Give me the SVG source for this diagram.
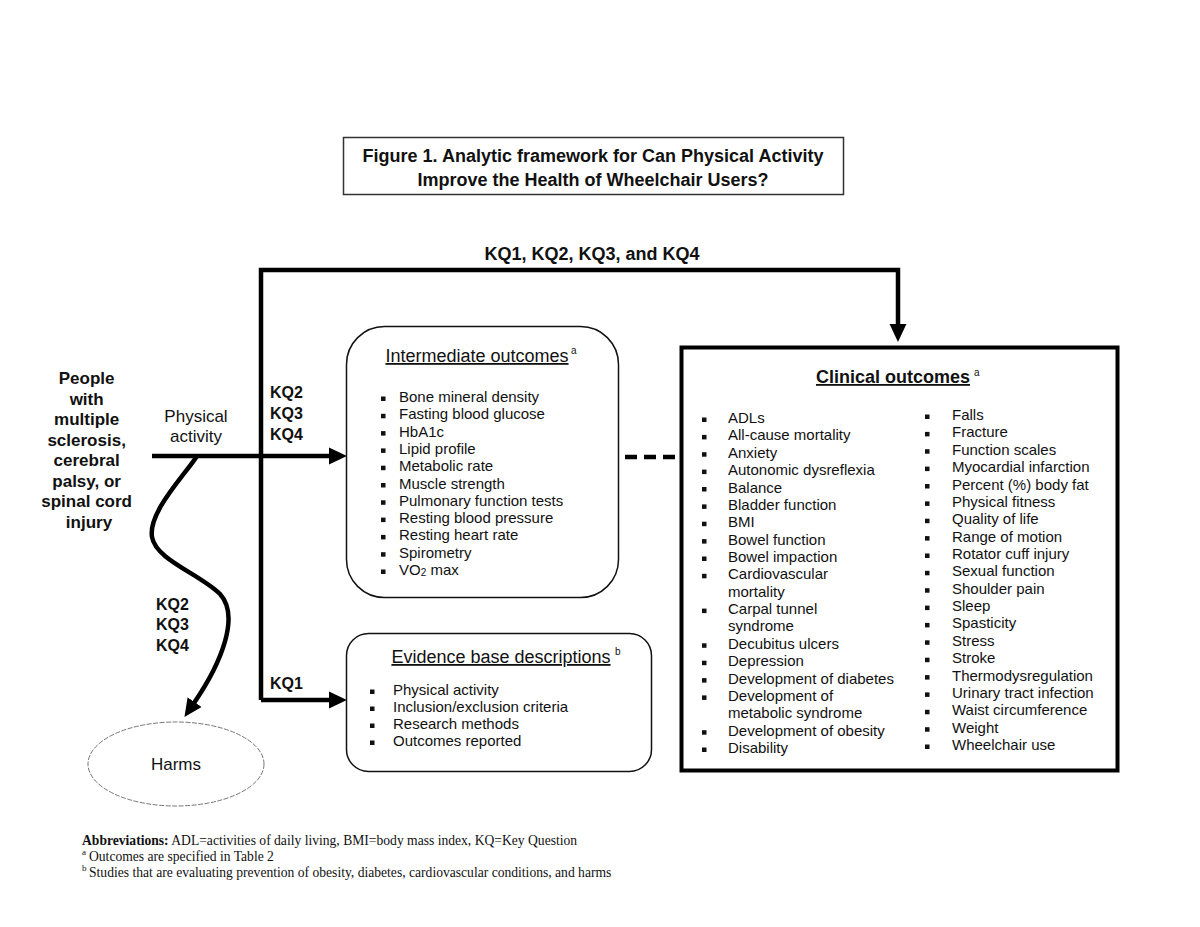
<svg xmlns="http://www.w3.org/2000/svg" width="1200" height="927" viewBox="0 0 1200 927">
<style>
text{font-family:"Liberation Sans",Arial,sans-serif;fill:#111}
.b{font-weight:bold}
.t17{font-size:17px}
.t18{font-size:18px}
.t16{font-size:16px}
.item{font-size:15px}
.sup{font-size:10px}
.ul{text-decoration:underline}
.fn{font-family:"Liberation Serif","Times New Roman",serif;font-size:13.6px}
.fns{font-family:"Liberation Serif","Times New Roman",serif;font-size:9px}
.conn{fill:none;stroke:#000;stroke-width:4.5}
.rbox{fill:#fff;stroke:#111;stroke-width:1.5}
.bul{fill:#111}
</style>
<defs>
<marker id="ah" markerUnits="userSpaceOnUse" markerWidth="18" markerHeight="18" refX="1" refY="8" orient="auto" viewBox="0 0 17 16">
<path d="M0,0 L17,8 L0,16 z" fill="#000"/>
</marker>
</defs>
<rect width="1200" height="927" fill="#fff"/>

<g id="title">
<rect x="343.5" y="137.5" width="500" height="57" fill="#fff" stroke="#333" stroke-width="1.5"/>
<text x="593" y="162" class="b t18" text-anchor="middle">Figure 1. Analytic framework for Can Physical Activity</text>
<text x="593" y="186" class="b t18" text-anchor="middle">Improve the Health of Wheelchair Users?</text>
</g>

<g id="connectors">
<path class="conn" d="M261,700 L261,270 L898,270 L898,325" marker-end="url(#ah)"/>
<path class="conn" d="M152,456 L330,456" marker-end="url(#ah)"/>
<path class="conn" d="M261,700 L330,700" marker-end="url(#ah)"/>
<path class="conn" d="M197,456 C185,475 148,512 152,537 C156,560 200,574 220,594 C240,616 222,662 194,703" marker-end="url(#ah)"/>
<line x1="625" y1="457" x2="675" y2="457" stroke="#000" stroke-width="4.5" stroke-dasharray="12,7"/>
<text x="592" y="260" class="b t18" text-anchor="middle">KQ1, KQ2, KQ3, and KQ4</text>
<text x="270" y="398" class="b t16">KQ2</text>
<text x="270" y="419" class="b t16">KQ3</text>
<text x="270" y="440" class="b t16">KQ4</text>
<text x="156" y="610" class="b t16">KQ2</text>
<text x="156" y="630" class="b t16">KQ3</text>
<text x="156" y="651" class="b t16">KQ4</text>
<text x="270" y="689" class="b t16">KQ1</text>
<text x="196" y="422" class="t17" text-anchor="middle">Physical</text>
<text x="196" y="442" class="t17" text-anchor="middle">activity</text>
</g>

<g id="population">
<text class="b t17" text-anchor="middle">
<tspan x="89" y="384">People</tspan>
<tspan x="89" y="404.5">with</tspan>
<tspan x="89" y="425">multiple</tspan>
<tspan x="89" y="445.5">sclerosis,</tspan>
<tspan x="89" y="466">cerebral</tspan>
<tspan x="89" y="486.5">palsy, or</tspan>
<tspan x="89" y="507">spinal cord</tspan>
<tspan x="89" y="527.5">injury</tspan>
</text>
</g>

<g id="harms">
<ellipse cx="176" cy="764" rx="88" ry="42" fill="#fff" stroke="#666" stroke-width="0.9" stroke-dasharray="5,1.5"/>
<text x="176" y="770" class="t17" text-anchor="middle">Harms</text>
</g>

<g id="intermediate">
<rect class="rbox" x="346.5" y="326.5" width="272" height="271" rx="38" ry="38"/>
<text x="477" y="362" class="t18 ul" text-anchor="middle">Intermediate outcomes</text>
<text x="571" y="354" class="sup">a</text>
<g class="bul">
<rect x="381" y="396.5" width="4.5" height="4.5"/><rect x="381" y="413.8" width="4.5" height="4.5"/><rect x="381" y="431.1" width="4.5" height="4.5"/><rect x="381" y="448.4" width="4.5" height="4.5"/><rect x="381" y="465.7" width="4.5" height="4.5"/><rect x="381" y="483" width="4.5" height="4.5"/><rect x="381" y="500.3" width="4.5" height="4.5"/><rect x="381" y="517.6" width="4.5" height="4.5"/><rect x="381" y="534.9" width="4.5" height="4.5"/><rect x="381" y="552.2" width="4.5" height="4.5"/><rect x="381" y="569.5" width="4.5" height="4.5"/>
</g>
<text class="item">
<tspan x="399" y="402">Bone mineral density</tspan>
<tspan x="399" y="419.3">Fasting blood glucose</tspan>
<tspan x="399" y="436.6">HbA1c</tspan>
<tspan x="399" y="453.9">Lipid profile</tspan>
<tspan x="399" y="471.2">Metabolic rate</tspan>
<tspan x="399" y="488.5">Muscle strength</tspan>
<tspan x="399" y="505.8">Pulmonary function tests</tspan>
<tspan x="399" y="523.1">Resting blood pressure</tspan>
<tspan x="399" y="540.4">Resting heart rate</tspan>
<tspan x="399" y="557.7">Spirometry</tspan>
</text>
<text x="399" y="575" class="item">VO<tspan font-size="10" dy="1">2</tspan><tspan dy="-1"> max</tspan></text>
</g>

<g id="evidence">
<rect class="rbox" x="346.5" y="633.5" width="305" height="138" rx="22" ry="22"/>
<text x="501" y="663" class="t18 ul" text-anchor="middle">Evidence base descriptions</text>
<text x="615" y="655" class="sup">b</text>
<g class="bul">
<rect x="370" y="689.5" width="4.5" height="4.5"/><rect x="370" y="706.5" width="4.5" height="4.5"/><rect x="370" y="723.5" width="4.5" height="4.5"/><rect x="370" y="740.5" width="4.5" height="4.5"/>
</g>
<text class="item">
<tspan x="393" y="695">Physical activity</tspan>
<tspan x="393" y="712">Inclusion/exclusion criteria</tspan>
<tspan x="393" y="729">Research methods</tspan>
<tspan x="393" y="746">Outcomes reported</tspan>
</text>
</g>

<g id="clinical">
<rect x="681.5" y="347.5" width="436" height="423" fill="#fff" stroke="#000" stroke-width="4"/>
<text x="893" y="383" class="b t18 ul" text-anchor="middle">Clinical outcomes</text>
<text x="974" y="376" class="sup">a</text>
<g class="bul">
<rect x="702" y="417.5" width="4.5" height="4.5"/><rect x="702" y="434.9" width="4.5" height="4.5"/><rect x="702" y="452.2" width="4.5" height="4.5"/><rect x="702" y="469.6" width="4.5" height="4.5"/><rect x="702" y="487" width="4.5" height="4.5"/><rect x="702" y="504.4" width="4.5" height="4.5"/><rect x="702" y="521.7" width="4.5" height="4.5"/><rect x="702" y="539.1" width="4.5" height="4.5"/><rect x="702" y="556.5" width="4.5" height="4.5"/><rect x="702" y="573.8" width="4.5" height="4.5"/><rect x="702" y="608.6" width="4.5" height="4.5"/><rect x="702" y="643.3" width="4.5" height="4.5"/><rect x="702" y="660.7" width="4.5" height="4.5"/><rect x="702" y="678.1" width="4.5" height="4.5"/><rect x="702" y="695.4" width="4.5" height="4.5"/><rect x="702" y="730.2" width="4.5" height="4.5"/><rect x="702" y="747.5" width="4.5" height="4.5"/>
</g>
<text class="item">
<tspan x="728" y="423">ADLs</tspan>
<tspan x="728" y="440.4">All-cause mortality</tspan>
<tspan x="728" y="457.7">Anxiety</tspan>
<tspan x="728" y="475.1">Autonomic dysreflexia</tspan>
<tspan x="728" y="492.5">Balance</tspan>
<tspan x="728" y="509.9">Bladder function</tspan>
<tspan x="728" y="527.2">BMI</tspan>
<tspan x="728" y="544.6">Bowel function</tspan>
<tspan x="728" y="562">Bowel impaction</tspan>
<tspan x="728" y="579.3">Cardiovascular</tspan>
<tspan x="728" y="596.7">mortality</tspan>
<tspan x="728" y="614.1">Carpal tunnel</tspan>
<tspan x="728" y="631.4">syndrome</tspan>
<tspan x="728" y="648.8">Decubitus ulcers</tspan>
<tspan x="728" y="666.2">Depression</tspan>
<tspan x="728" y="683.6">Development of diabetes</tspan>
<tspan x="728" y="700.9">Development of</tspan>
<tspan x="728" y="718.3">metabolic syndrome</tspan>
<tspan x="728" y="735.7">Development of obesity</tspan>
<tspan x="728" y="753">Disability</tspan>
</text>
<g class="bul">
<rect x="925" y="414.5" width="4.5" height="4.5"/><rect x="925" y="431.9" width="4.5" height="4.5"/><rect x="925" y="449.2" width="4.5" height="4.5"/><rect x="925" y="466.6" width="4.5" height="4.5"/><rect x="925" y="484" width="4.5" height="4.5"/><rect x="925" y="501.4" width="4.5" height="4.5"/><rect x="925" y="518.7" width="4.5" height="4.5"/><rect x="925" y="536.1" width="4.5" height="4.5"/><rect x="925" y="553.5" width="4.5" height="4.5"/><rect x="925" y="570.8" width="4.5" height="4.5"/><rect x="925" y="588.2" width="4.5" height="4.5"/><rect x="925" y="605.6" width="4.5" height="4.5"/><rect x="925" y="622.9" width="4.5" height="4.5"/><rect x="925" y="640.3" width="4.5" height="4.5"/><rect x="925" y="657.7" width="4.5" height="4.5"/><rect x="925" y="675.1" width="4.5" height="4.5"/><rect x="925" y="692.4" width="4.5" height="4.5"/><rect x="925" y="709.8" width="4.5" height="4.5"/><rect x="925" y="727.2" width="4.5" height="4.5"/><rect x="925" y="744.5" width="4.5" height="4.5"/>
</g>
<text class="item">
<tspan x="952" y="420">Falls</tspan>
<tspan x="952" y="437.4">Fracture</tspan>
<tspan x="952" y="454.7">Function scales</tspan>
<tspan x="952" y="472.1">Myocardial infarction</tspan>
<tspan x="952" y="489.5">Percent (%) body fat</tspan>
<tspan x="952" y="506.9">Physical fitness</tspan>
<tspan x="952" y="524.2">Quality of life</tspan>
<tspan x="952" y="541.6">Range of motion</tspan>
<tspan x="952" y="559">Rotator cuff injury</tspan>
<tspan x="952" y="576.3">Sexual function</tspan>
<tspan x="952" y="593.7">Shoulder pain</tspan>
<tspan x="952" y="611.1">Sleep</tspan>
<tspan x="952" y="628.4">Spasticity</tspan>
<tspan x="952" y="645.8">Stress</tspan>
<tspan x="952" y="663.2">Stroke</tspan>
<tspan x="952" y="680.6">Thermodysregulation</tspan>
<tspan x="952" y="697.9">Urinary tract infection</tspan>
<tspan x="952" y="715.3">Waist circumference</tspan>
<tspan x="952" y="732.7">Weight</tspan>
<tspan x="952" y="750">Wheelchair use</tspan>
</text>
</g>

<g id="footnotes">
<text x="82" y="845" class="fn"><tspan font-weight="bold">Abbreviations:</tspan> ADL=activities of daily living, BMI=body mass index, KQ=Key Question</text>
<text x="82" y="855" class="fns">a</text>
<text x="89" y="861" class="fn">Outcomes are specified in Table 2</text>
<text x="82" y="871" class="fns">b</text>
<text x="89" y="877" class="fn">Studies that are evaluating prevention of obesity, diabetes, cardiovascular conditions, and harms</text>
</g>
</svg>
